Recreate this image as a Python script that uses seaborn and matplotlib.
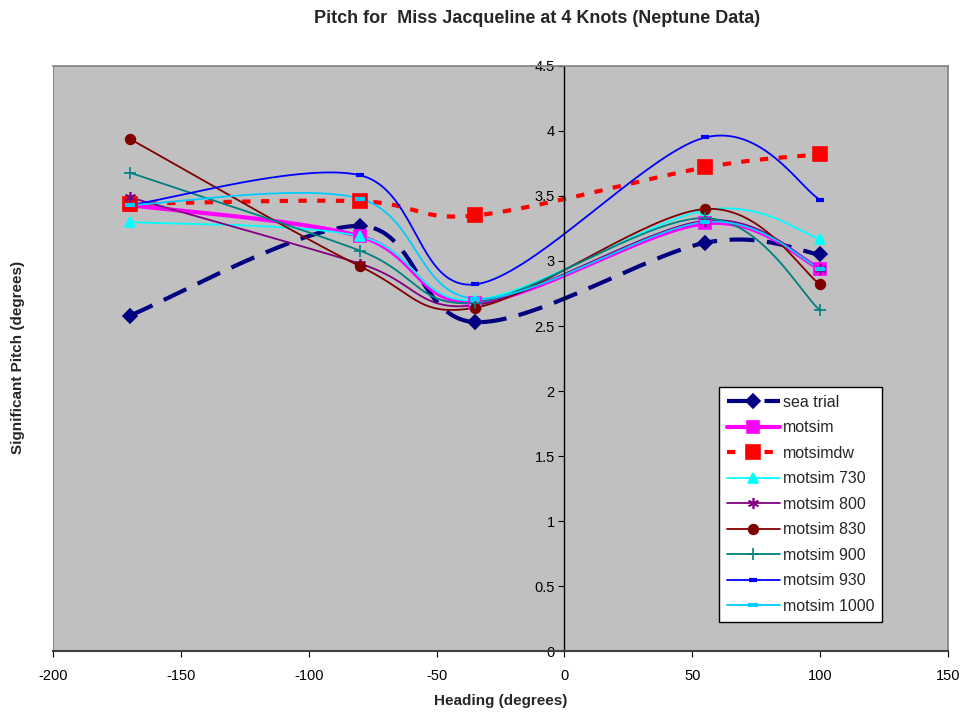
import numpy as np
import pandas as pd
import matplotlib
matplotlib.use("Agg")
import matplotlib.pyplot as plt
import seaborn as sns
from matplotlib.lines import Line2D

heading = [-170, -80, -35, 55, 100]

sea_trial = [2.58, 3.27, 2.53, 3.14, 3.05]
motsim = [3.43, 3.19, 2.68, 3.29, 2.94]
motsimdw = [3.44, 3.46, 3.35, 3.72, 3.82]
motsim_730 = [3.30, 3.19, 2.70, 3.39, 3.17]
motsim_800 = [3.49, 2.98, 2.66, 3.31, 2.94]
motsim_830 = [3.94, 2.96, 2.64, 3.40, 2.82]
motsim_900 = [3.68, 3.08, 2.68, 3.33, 2.62]
motsim_930 = [3.43, 3.66, 2.82, 3.95, 3.47]
motsim_1000 = [3.43, 3.48, 2.71, 3.30, 2.94]

series = [
    ("sea trial", sea_trial, dict(color="#000080", lw=3, ls=(0, (6, 3)), marker="D", ms=7)),
    ("motsim", motsim, dict(color="#FF00FF", lw=3, ls="-", marker="s", ms=8)),
    ("motsimdw", motsimdw, dict(color="#FF0000", lw=3, ls=(0, (2, 2.5)), marker="s", ms=10)),
    ("motsim 730", motsim_730, dict(color="#00FFFF", lw=1.3, ls="-", marker="^", ms=7)),
    ("motsim 800", motsim_800, dict(color="#800080", lw=1.3, ls="-", marker=(6, 2, 0), ms=8)),
    ("motsim 830", motsim_830, dict(color="#800000", lw=1.3, ls="-", marker="o", ms=7)),
    ("motsim 900", motsim_900, dict(color="#008080", lw=1.3, ls="-", marker="+", ms=8)),
    ("motsim 930", motsim_930, dict(color="#0000FF", lw=1.3, ls="-", marker="_", ms=6, mew=3)),
    ("motsim 1000", motsim_1000, dict(color="#00CCFF", lw=1.3, ls="-", marker="_", ms=7, mew=3)),
]

# excel-like smoothing: bezier with catmull-rom control points, in screen-ish units
SX, SY = 2.557, 130.0


def smooth(xs, ys, n=40):
    p = np.column_stack([np.array(xs) * SX, np.array(ys) * SY])
    pts = np.vstack([p[0], p, p[-1]])
    out = []
    t = np.linspace(0, 1, n)[:, None]
    for i in range(1, len(pts) - 2):
        p0, p1, p2, p3 = pts[i - 1], pts[i], pts[i + 1], pts[i + 2]
        c1 = p1 + (p2 - p0) / 6
        c2 = p2 - (p3 - p1) / 6
        seg = ((1 - t) ** 3) * p1 + 3 * ((1 - t) ** 2) * t * c1 + 3 * (1 - t) * t ** 2 * c2 + t ** 3 * p2
        out.append(seg if i == 1 else seg[1:])
    out = np.vstack(out)
    return out[:, 0] / SX, out[:, 1] / SY


sns.set_style("white")
plt.rcParams["font.family"] = ["Liberation Sans", "DejaVu Sans"]
plt.rcParams["axes.unicode_minus"] = False

fig = plt.figure(figsize=(9.63, 7.15), dpi=100)
ax = fig.add_axes([0.055, 0.0895, 0.9295, 0.8182])
ax.set_facecolor("#C0C0C0")

handles = []
for name, vals, st in series:
    sx, sy = smooth(heading, vals)
    curve = pd.DataFrame({"x": sx, "y": sy})
    sns.lineplot(data=curve, x="x", y="y", ax=ax, sort=False, color=st["color"],
                 lw=st["lw"], linestyle=st["ls"], estimator=None)
    ax.plot(heading, vals, ls="none", marker=st["marker"], ms=st["ms"], color=st["color"],
            mew=st.get("mew", 1.2), zorder=5)
    handles.append(Line2D([], [], color=st["color"], lw=st["lw"], ls=st["ls"], marker=st["marker"],
                          ms=st["ms"], mew=st.get("mew", 1.2), label=name))

ax.set_xlim(-200, 150)
ax.set_ylim(0, 4.5)
ax.set_xticks(np.arange(-200, 151, 50))
ax.set_yticks(np.arange(0, 4.51, 0.5))
ax.set_yticklabels(["0", "0.5", "1", "1.5", "2", "2.5", "3", "3.5", "4", "4.5"])

for s in ["top", "right"]:
    ax.spines[s].set_color("#808080")
    ax.spines[s].set_linewidth(1.2)
ax.spines["bottom"].set_color("#404040")
ax.spines["left"].set_color("black")
ax.spines["left"].set_position(("data", 0))
ax.spines["left"].set_linewidth(1)
ax.spines["bottom"].set_linewidth(1.5)
# grey frame at left edge
ax.axvline(-200, color="#808080", lw=1.2)

ax.tick_params(axis="both", direction="out", length=4, labelsize=10.5, colors="black", left=True, bottom=True)
ax.tick_params(axis="x", pad=9)
ax.tick_params(axis="y", pad=3)

ax.set_xlabel("Heading (degrees)", fontsize=11, fontweight="bold", labelpad=8)
fig.text(0.019, 0.5, "Significant Pitch (degrees)", rotation=90, va="center", ha="center",
         fontsize=11, fontweight="bold")
ax.set_ylabel("")
fig.text(0.558, 0.974, "Pitch for  Miss Jacqueline at 4 Knots (Neptune Data)", ha="center", va="center",
         fontsize=13, fontweight="bold")

leg = ax.legend(handles=handles, loc="lower left", bbox_to_anchor=(0.744, 0.0496), fontsize=11.5,
                frameon=True, fancybox=False, edgecolor="black", facecolor="white", framealpha=1,
                handlelength=3.3, borderpad=0.5, labelspacing=0.66, handletextpad=0.2,
                borderaxespad=0)
leg.get_frame().set_linewidth(1)

fig.savefig("out.png", dpi=100)
